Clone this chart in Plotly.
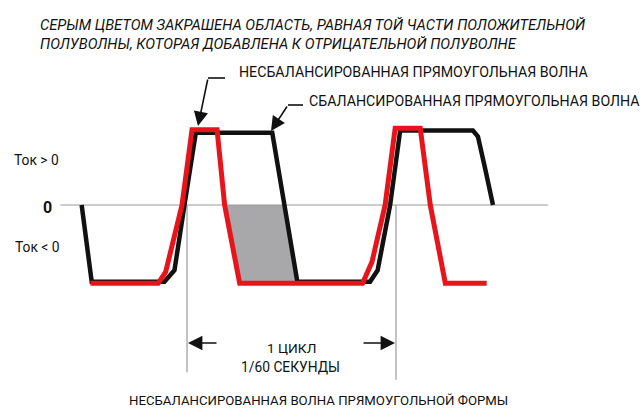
import plotly.graph_objects as go

W, H = 644, 408
# time in ms (1 cycle = 1/60 s = 16.67 ms), current normalised to +-1
black_t = [-8.4, -7.6, -1.8, -1.0, -0.2, 0.7, 6.8, 7.8, 8.8, 14.6, 15.2, 16.2, 17.0, 22.8, 23.2, 23.8, 24.4]
black_i = [0, -1.01, -1.01, -0.86, 0, 0.95, 0.95, 0, -1.01, -1.01, -0.86, 0, 0.98, 0.98, 0.90, 0.46, 0]
red_t = [-7.7, -2.3, -1.7, -0.4, 0.4, 2.4, 3.0, 4.2, 14.0, 14.75, 15.8, 16.6, 18.6, 19.4, 20.6, 23.9]
red_i = [-1.03, -1.03, -0.88, 0, 0.99, 0.99, 0, -1.03, -1.03, -0.75, 0, 1.01, 1.01, 0, -1.03, -1.03]
cycle_start, cycle_end = 0.0, 1000 / 60
zero_line = [-10.1, 28.8]

title_lines = ["СЕРЫМ ЦВЕТОМ ЗАКРАШЕНА ОБЛАСТЬ, РАВНАЯ ТОЙ ЧАСТИ ПОЛОЖИТЕЛЬНОЙ",
               "ПОЛУВОЛНЫ, КОТОРАЯ ДОБАВЛЕНА К ОТРИЦАТЕЛЬНОЙ ПОЛУВОЛНЕ"]
label_unbal = "НЕСБАЛАНСИРОВАННАЯ ПРЯМОУГОЛЬНАЯ ВОЛНА"
label_bal = "СБАЛАНСИРОВАННАЯ ПРЯМОУГОЛЬНАЯ ВОЛНА"
cycle_text = ["1 ЦИКЛ", "1/60 СЕКУНДЫ"]
bottom_title = "НЕСБАЛАНСИРОВАННАЯ ВОЛНА ПРЯМОУГОЛЬНОЙ ФОРМЫ"
y_labels = ["Ток > 0", "0", "Ток < 0"]

FONT = "Roboto, Liberation Sans, sans-serif"
RED, BLACK, GREY_FILL, GREY_LINE = "#e8141c", "#111111", "#a8a8ab", "#9a9a9a"

# px -> data scale
PX_PER_MS, X0_PX = 12.54, 187
PX_PER_UNIT, Y0_PX = 76, 205
xr = [-X0_PX / PX_PER_MS, (W - X0_PX) / PX_PER_MS]
yr = [(Y0_PX - H) / PX_PER_UNIT, Y0_PX / PX_PER_UNIT]

def px(x, y):
    return x / W, 1 - y / H

fig = go.Figure()
gx = [red_t[6], black_t[7], black_t[8], red_t[7], red_t[6]]
gy = [red_i[6], black_i[7], black_i[8], red_i[7], red_i[6]]
fig.add_trace(go.Scatter(x=gx, y=gy, fill="toself", fillcolor=GREY_FILL, mode="none", hoverinfo="skip"))
fig.add_trace(go.Scatter(x=zero_line, y=[0, 0], mode="lines", line=dict(color=GREY_LINE, width=1.2), hoverinfo="skip"))
fig.add_trace(go.Scatter(x=[cycle_start, cycle_start], y=[0, -2.2], mode="lines", line=dict(color=GREY_LINE, width=1.2), hoverinfo="skip"))
fig.add_trace(go.Scatter(x=[cycle_end, cycle_end], y=[0, -2.3], mode="lines", line=dict(color=GREY_LINE, width=1.2), hoverinfo="skip"))
fig.add_trace(go.Scatter(x=black_t, y=black_i, mode="lines", line=dict(color=BLACK, width=4.5), name=label_bal))
fig.add_trace(go.Scatter(x=red_t, y=red_i, mode="lines", line=dict(color=RED, width=5), name=label_unbal))

ann = []
def text(s, x, y, size=16, anchor="left", bold=False, italic=False):
    xp, yp = px(x, y)
    if bold:
        s = "<b>" + s + "</b>"
    if italic:
        s = "<i>" + s + "</i>"
    ann.append(dict(text=s, x=xp, y=yp, xref="paper", yref="paper", xanchor=anchor, yanchor="middle",
                    align="left", showarrow=False, font=dict(family=FONT, size=size, color="#111")))

text("<br>".join(title_lines), 38, 34, size=14.7, italic=True)
text(label_unbal, 237, 72, size=14.2)
text(label_bal, 307, 101, size=14.2)
text(y_labels[0], 12, 160, size=13.8)
text(y_labels[1], 54, 207.5, size=16, anchor="right", bold=True)
text(y_labels[2], 13, 247.5, size=13.8)
text(cycle_text[0], 291, 347.5, size=13.7, anchor="center")
text(cycle_text[1], 290, 367, size=13.8, anchor="center")
text(bottom_title, 318, 400, size=13.2, anchor="center")

def arrow(tip, tail):
    xp, yp = px(*tip)
    ann.append(dict(x=xp, y=yp, xref="paper", yref="paper", ax=tail[0] - tip[0], ay=tail[1] - tip[1],
                    axref="pixel", ayref="pixel", showarrow=True, arrowhead=2, arrowsize=1.8,
                    arrowwidth=1.6, arrowcolor="#111", standoff=0, text=""))

arrow((198, 126), (208, 78))
arrow((271, 131), (288, 105))
arrow((188, 343), (218, 343))
arrow((395, 343), (362, 343))

shapes = []
for (x1, y1, x2, y2) in [(208, 78, 225, 78), (288, 105, 303, 105)]:
    a, b = px(x1, y1)
    c, d = px(x2, y2)
    shapes.append(dict(type="line", xref="paper", yref="paper", x0=a, y0=b, x1=c, y1=d,
                       line=dict(color="#111", width=1.6)))

fig.update_layout(width=W, height=H, margin=dict(l=0, r=0, t=0, b=0), showlegend=False,
                  plot_bgcolor="white", paper_bgcolor="white", annotations=ann, shapes=shapes,
                  xaxis=dict(range=xr, visible=False, domain=[0, 1]),
                  yaxis=dict(range=yr, visible=False, domain=[0, 1]))
fig.write_html("out.html", config={"displayModeBar": False},
               post_script="document.body.style.margin='0';document.body.style.overflow='hidden';")
